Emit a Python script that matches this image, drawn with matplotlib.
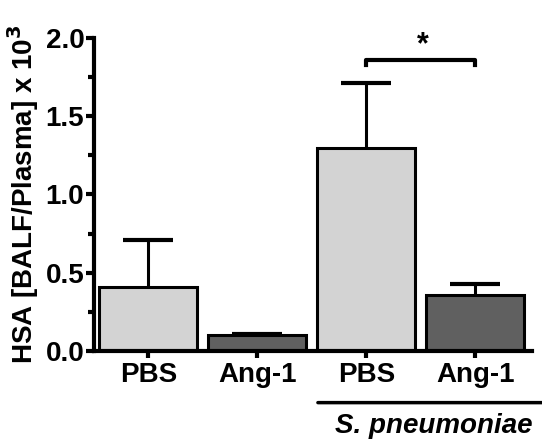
import matplotlib.pyplot as plt

plt.rcParams['font.family'] = ['Liberation Sans', 'DejaVu Sans']
plt.rcParams['font.weight'] = 'bold'
plt.rcParams['mathtext.default'] = 'bf'

labels = ['PBS', 'Ang-1', 'PBS', 'Ang-1']
means = [0.41, 0.10, 1.30, 0.36]
errs = [0.30, 0.01, 0.41, 0.07]
colors = ['#d3d3d3', '#606060', '#d3d3d3', '#606060']

fig = plt.figure(figsize=(5.42, 4.44), dpi=100)
ax = fig.add_axes([0.1734, 0.2095, 0.808, 0.705])

x = range(len(labels))
ax.bar(x, means, width=0.9, color=colors, edgecolor='black', linewidth=2.2, zorder=2)
eb = ax.errorbar(x, means, yerr=[[0] * 4, errs], fmt='none', ecolor='black',
                 elinewidth=2.2, capsize=18, capthick=3, zorder=1)
eb[1][0].set_visible(False)

ax.set_xlim(-0.5, 3.52)
ax.set_ylim(0, 2.0)
ax.set_yticks([0, 0.5, 1.0, 1.5, 2.0])
ax.set_yticklabels(['0.0', '0.5', '1.0', '1.5', '2.0'])
ax.set_yticks([0.25, 0.75, 1.25, 1.75], minor=True)
ax.set_xticks(list(x))
ax.set_xticklabels(labels)

for s in ['top', 'right']:
    ax.spines[s].set_visible(False)
for s in ['left', 'bottom']:
    ax.spines[s].set_linewidth(3)

ax.tick_params(axis='y', which='major', length=6, width=3, labelsize=20, pad=1)
ax.tick_params(axis='y', which='minor', length=4, width=3)
ax.tick_params(axis='x', length=5, width=3, labelsize=20, pad=3)
for t in ax.get_xticklabels() + ax.get_yticklabels():
    t.set_fontweight('bold')

ax.set_ylabel('HSA [BALF/Plasma] x 10$^3$', fontsize=20, fontweight='bold', labelpad=3)

# significance bracket
ax.plot([2, 2, 3, 3], [1.83, 1.86, 1.86, 1.83], color='black', lw=3, clip_on=False)
ax.text(2.52, 1.86, '*', ha='center', va='bottom', fontsize=22, fontweight='bold')

# infection group line
ax.annotate('', xy=(1.53, -0.33), xytext=(3.65, -0.33), xycoords='data',
            arrowprops=dict(arrowstyle='-', lw=2.5, color='black'), annotation_clip=False)
ax.text(2.62, -0.48, 'S. pneumoniae', ha='center', va='center', fontsize=20,
        fontweight='bold', style='italic', clip_on=False)

fig.savefig('out.png', dpi=100)
